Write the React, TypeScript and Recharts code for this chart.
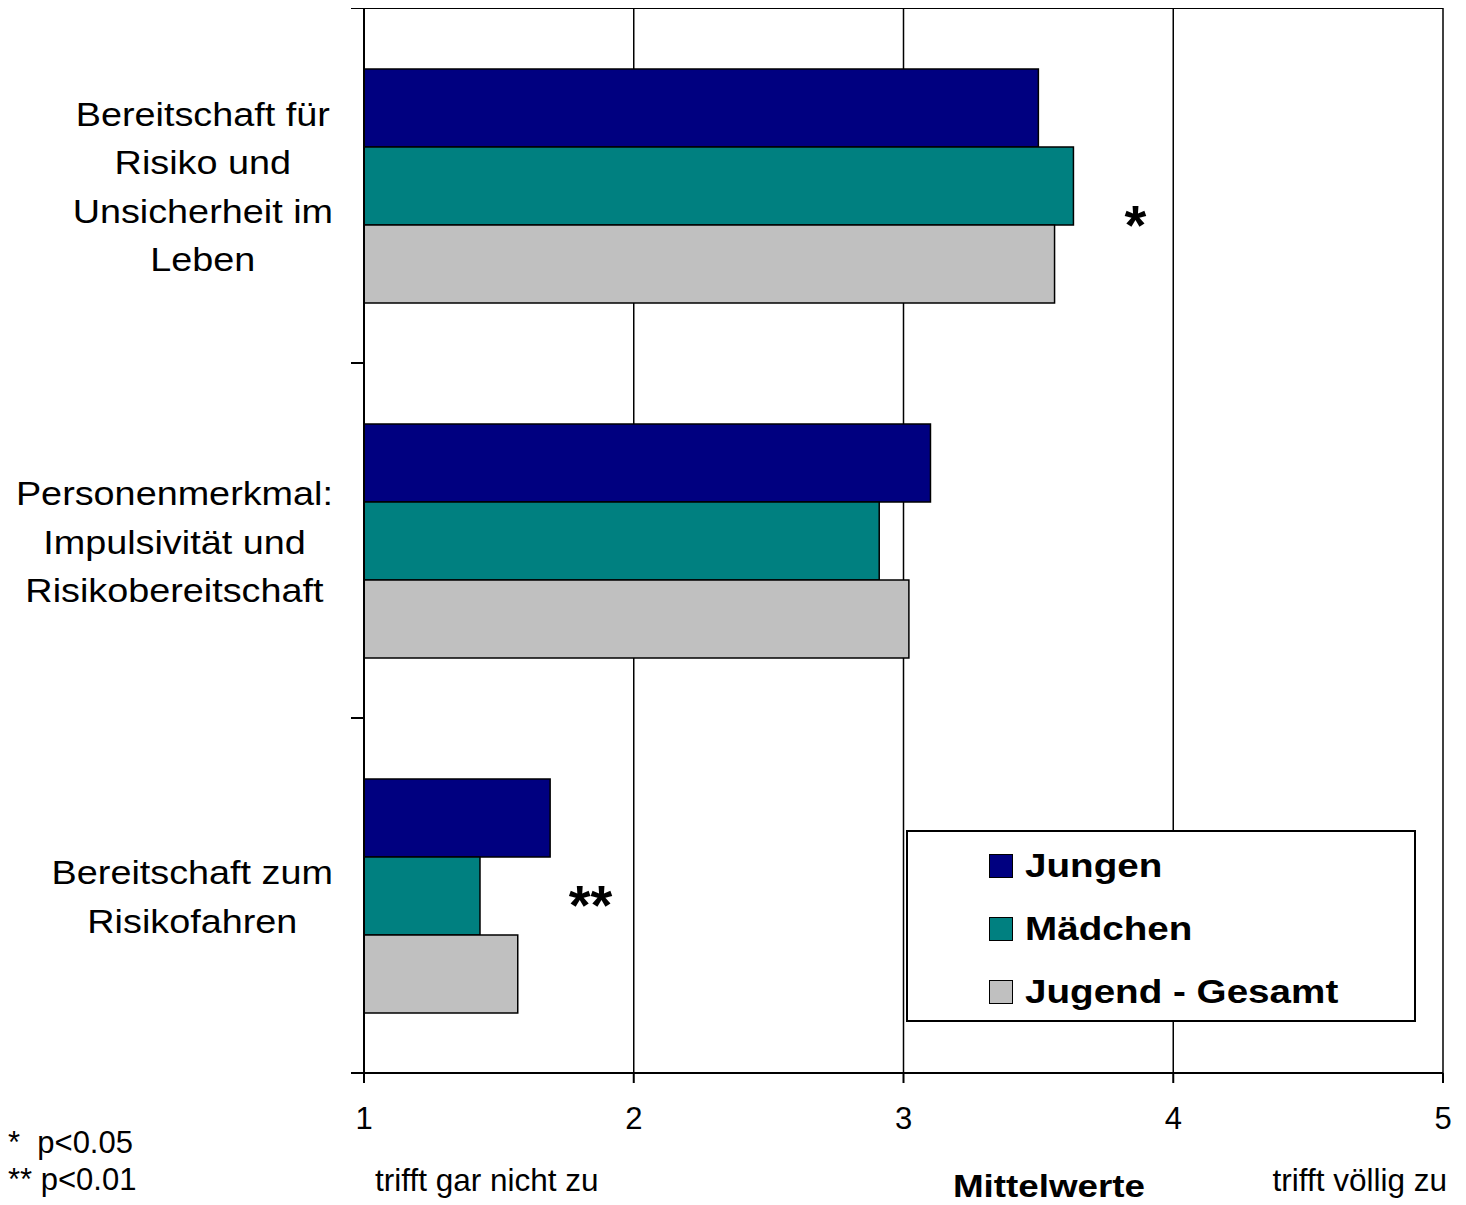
import React from 'react';
import { BarChart, Bar, XAxis, YAxis, CartesianGrid, Legend, ReferenceDot } from 'recharts';

// ---- data ----
const categoryLines: string[][] = [
  ['Bereitschaft für', 'Risiko und', 'Unsicherheit im', 'Leben'],
  ['Personenmerkmal:', 'Impulsivität und', 'Risikobereitschaft'],
  ['Bereitschaft zum', 'Risikofahren'],
];
const categories = categoryLines.map((l) => l.join(' '));
const jungen = [3.5, 3.1, 1.69];
const maedchen = [3.63, 2.91, 1.43];
const gesamt = [3.56, 3.02, 1.57];
const xTicks = [1, 2, 3, 4, 5];
const seriesKeys = ['jungen', 'maedchen', 'gesamt'];
const seriesNames = ['Jungen', 'Mädchen', 'Jugend - Gesamt'];
const seriesColors = ['#000080', '#008080', '#C0C0C0'];
const sigCategories = [categories[0], categories[2]];
const sigValues = [3.86, 1.84];
const sigMarks = ['*', '**'];
const scaleLabels = ['trifft gar nicht zu', 'trifft völlig zu'];
const axisTitle = 'Mittelwerte';
const footnotes = ['*  p<0.05', '** p<0.01'];

const data = categories.map((c, i) => ({ cat: c, jungen: jungen[i], maedchen: maedchen[i], gesamt: gesamt[i] }));

const FONT = '"Liberation Sans", Arial, sans-serif';
const CAT_FS = 33;
const CAT_SX = 1.145;

let ctx: CanvasRenderingContext2D | null = null;
const measure = (s: string, fs: number, bold = false) => {
  if (!ctx) ctx = document.createElement('canvas').getContext('2d');
  if (!ctx) return s.length * fs * 0.5;
  ctx.font = `${bold ? 'bold ' : ''}${fs}px "Liberation Sans"`;
  return ctx.measureText(s).width;
};

const CategoryTick = (props: any) => {
  const { x, y, payload, height } = props;
  const idx = categories.indexOf(payload.value);
  const lines = categoryLines[idx] || [String(payload.value)];
  const half = payload.offset != null && payload.offset > 0 ? payload.offset : height / categories.length / 2;
  const axisX = x + 13;
  const rightEdge = x - 18;
  const maxW = Math.max(...lines.map((l) => measure(l, CAT_FS) * CAT_SX));
  const cx = rightEdge - maxW / 2;
  const n = lines.length;
  return (
    <g>
      <line x1={axisX - 13} x2={axisX} y1={y - half} y2={y - half} stroke="#000" strokeWidth={2} />
      <line x1={axisX - 13} x2={axisX} y1={y + half} y2={y + half} stroke="#000" strokeWidth={2} />
      {lines.map((l, i) => (
        <g key={i} transform={`translate(${cx},${y + (i - (n - 1) / 2) * 48.2 + 13}) scale(${CAT_SX},1)`}>
          <text x={0} y={0} textAnchor="middle" fontSize={CAT_FS} fill="#000" fontFamily={FONT}>
            {l}
          </text>
        </g>
      ))}
    </g>
  );
};

const LegendBox = () => (
  <div
    style={{
      width: 510,
      height: 192,
      boxSizing: 'border-box',
      border: '2px solid #000',
      background: '#fff',
      paddingTop: 2.5,
      paddingLeft: 81,
      fontFamily: FONT,
    }}
  >
    {seriesNames.map((name, i) => (
      <div key={i} style={{ height: 63, display: 'flex', alignItems: 'center' }}>
        <div
          style={{
            width: 24,
            height: 24,
            boxSizing: 'border-box',
            border: '1.5px solid #000',
            background: seriesColors[i],
            marginRight: 12,
            flex: 'none',
          }}
        />
        <span
          style={{
            fontSize: 33,
            fontWeight: 'bold',
            color: '#000',
            display: 'inline-block',
            transform: 'scaleX(1.17)',
            transformOrigin: 'left center',
            whiteSpace: 'pre',
          }}
        >
          {name}
        </span>
      </div>
    ))}
  </div>
);

const sigDy = [58, 28];

export default function App() {
  return (
    <div style={{ position: 'relative', margin: '-8px 0 0 -8px', width: 1466, height: 1205, fontFamily: FONT, background: '#fff' }}>
      <BarChart
        width={1466}
        height={1205}
        data={data}
        layout="vertical"
        margin={{ top: 8, right: 23, left: 0, bottom: 72 }}
        barGap={0}
        barSize={78}
      >
        <CartesianGrid horizontal={false} vertical stroke="#000" strokeWidth={1.5} />
        <CartesianGrid
          vertical={false}
          horizontal
          stroke="#000"
          strokeWidth={2}
          horizontalCoordinatesGenerator={(p: any) => [p.offset.top]}
        />
        <XAxis
          type="number"
          domain={[1, 5]}
          ticks={xTicks}
          allowDataOverflow
          height={60}
          tickSize={10}
          tickMargin={24}
          axisLine={{ stroke: '#000', strokeWidth: 2 }}
          tickLine={{ stroke: '#000', strokeWidth: 2 }}
          tick={{ fontSize: 31, fill: '#000', fontFamily: FONT }}
        />
        <YAxis
          type="category"
          dataKey="cat"
          width={364}
          interval={0}
          tickSize={13}
          tickMargin={0}
          tickLine={false}
          axisLine={{ stroke: '#000', strokeWidth: 2 }}
          tick={<CategoryTick />}
        />
        {seriesKeys.map((k, i) => (
          <Bar
            key={k}
            dataKey={k}
            name={seriesNames[i]}
            fill={seriesColors[i]}
            stroke="#000"
            strokeWidth={1.5}
            isAnimationActive={false}
          />
        ))}
        {sigMarks.map((m, i) => (
          <ReferenceDot
            key={i}
            x={sigValues[i]}
            y={sigCategories[i]}
            r={0}
            shape={(p: any) => (
              <text
                x={p.cx}
                y={p.cy + sigDy[i]}
                textAnchor="middle"
                fontSize={56}
                fontWeight="bold"
                fill="#000"
                fontFamily={FONT}
              >
                {m}
              </text>
            )}
          />
        ))}
        <Legend
          layout="horizontal"
          verticalAlign="middle"
          align="center"
          content={<LegendBox />}
          wrapperStyle={{ left: 906, top: 830, width: 510, height: 192, margin: 0 }}
        />
      </BarChart>
      <svg
        width={1466}
        height={1205}
        style={{ position: 'absolute', left: 0, top: 0, pointerEvents: 'none' }}
        fontFamily={FONT}
      >
        <text x={8} y={1153} fontSize={31} fill="#000" style={{ whiteSpace: 'pre' }}>
          {footnotes[0]}
        </text>
        <text x={8} y={1190} fontSize={31} fill="#000" style={{ whiteSpace: 'pre' }}>
          {footnotes[1]}
        </text>
        <text x={375} y={1191} fontSize={31.5} fill="#000">
          {scaleLabels[0]}
        </text>
        <text x={1447} y={1191} fontSize={31.5} fill="#000" textAnchor="end">
          {scaleLabels[1]}
        </text>
        <g transform="translate(1049,1197) scale(1.15,1)">
          <text x={0} y={0} fontSize={32} fontWeight="bold" fill="#000" textAnchor="middle">
            {axisTitle}
          </text>
        </g>
      </svg>
    </div>
  );
}
